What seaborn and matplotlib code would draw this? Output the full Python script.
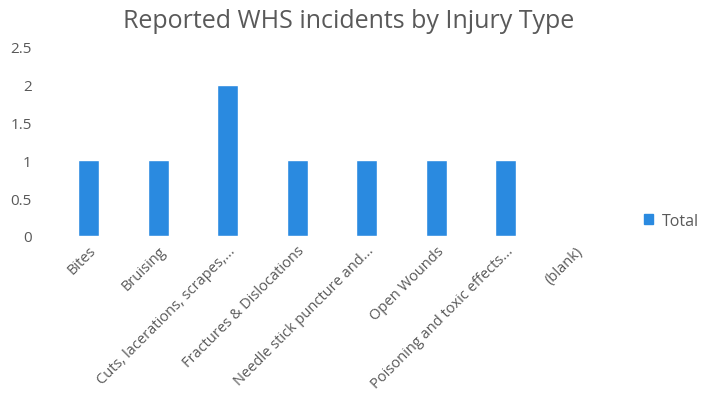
import numpy as np
import pandas as pd
import matplotlib
matplotlib.use('Agg')
import matplotlib.pyplot as plt
import seaborn as sns
from matplotlib.patches import Patch

injury_types = ['Bites', 'Bruising', 'Cuts, lacerations, scrapes,...',
                'Fractures & Dislocations', 'Needle stick puncture and...',
                'Open Wounds', 'Poisoning and toxic effects...', '(blank)']
totals = [1, 1, 2, 1, 1, 1, 1, 0]
y_ticks = [0, 0.5, 1, 1.5, 2, 2.5]
y_tick_labels = ['0', '0.5', '1', '1.5', '2', '2.5']

df = pd.DataFrame({'Injury Type': injury_types, 'Total': totals})

sns.set_style('white')
plt.rcParams['font.family'] = ['Open Sans', 'DejaVu Sans']
grey = '#595959'
bar_color = '#2a8ae0'

fig = plt.figure(figsize=(7.01, 4.10), dpi=100)
ax = fig.add_axes([0.077, 0.422, 0.793, 0.461])

sns.barplot(data=df, x='Injury Type', y='Total', color=bar_color,
            width=0.3, ax=ax, saturation=1)

ax.set_ylim(0, 2.5)
ax.set_yticks(y_ticks)
ax.set_yticklabels(y_tick_labels)
ax.set_xlim(-0.5, len(injury_types) - 0.5)
ax.set_xlabel('')
ax.set_ylabel('')
for s in ax.spines.values():
    s.set_visible(False)
ax.tick_params(axis='both', length=0, colors=grey)
ax.tick_params(axis='y', pad=16, labelsize=11)
ax.tick_params(axis='x', pad=5, labelsize=10.5)
plt.setp(ax.get_xticklabels(), rotation=45, ha='right', rotation_mode='anchor')

fig.suptitle('Reported WHS incidents by Injury Type', x=0.497, y=0.978,
             fontsize=18, color=grey)

fig.legend(handles=[Patch(color=bar_color, label='Total')], loc='center left',
           bbox_to_anchor=(0.898, 0.459), frameon=False, fontsize=11.5,
           handlelength=0.6, handleheight=0.6, handletextpad=0.5,
           labelcolor=grey)

fig.savefig('out.png', dpi=100)
